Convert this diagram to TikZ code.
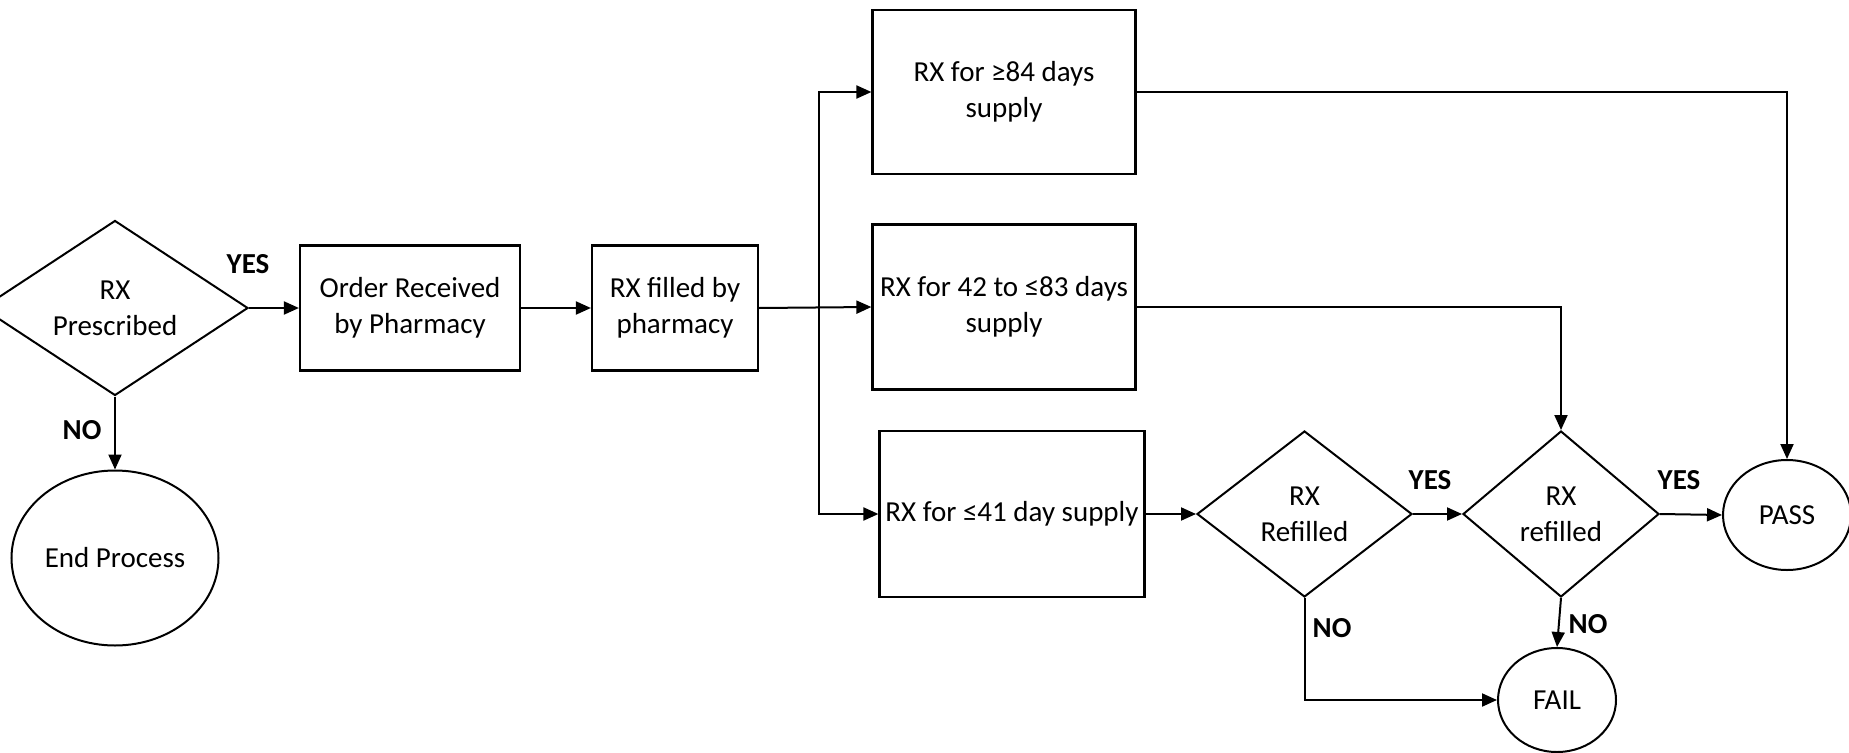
\documentclass[tikz,border=0pt]{standalone}
\usepackage{fontspec}
\setmainfont{Carlito}
\usetikzlibrary{shapes.geometric,arrows.meta}

\begin{document}
\begin{tikzpicture}
[
	x=1pt,y=-1pt,
	font=\fontsize{29}{36}\selectfont,
	procbox/.style={rectangle,draw,line width=2.2pt,inner sep=0pt,align=center},
	decision/.style={diamond,draw,line width=2pt,inner sep=0pt,align=center},
	termnode/.style={ellipse,draw,line width=2pt,inner sep=0pt,align=center},
	lbl/.style={font=\fontsize{29}{36}\selectfont\bfseries},
	arr/.style={-{Triangle[length=15pt,width=13pt]},line width=2pt}
]

	\useasboundingbox (0,0) rectangle (1849,752);

	% start
	\node[decision,aspect=1.53,minimum width=266pt,minimum height=175pt] at (115,308) (prescribed) {RX\\Prescribed};
	\node[termnode,minimum width=207pt,minimum height=175pt] at (115,558) (endproc) {End Process};
	\node[procbox,minimum width=220pt,minimum height=125pt] at (410,308) (order) {Order Received\\by Pharmacy};
	\node[procbox,minimum width=166pt,minimum height=125pt] at (675,308) (filled) {RX filled by\\pharmacy};

	% supply boxes
	\node[procbox,minimum width=263pt,minimum height=164pt] at (1004,92) (long) {RX for ≥84 days\\supply};
	\node[procbox,minimum width=263pt,minimum height=165pt] at (1004,307) (mid) {RX for 42 to ≤83 days\\supply};
	\node[procbox,minimum width=265pt,minimum height=166pt] at (1012,514) (short) {RX for ≤41 day supply};

	% refills
	\node[decision,aspect=1.3,minimum width=215pt,minimum height=166pt] at (1304.5,514) (refillA) {RX\\Refilled};
	\node[decision,aspect=1.18,minimum width=196pt,minimum height=166pt] at (1561,514) (refillB) {RX\\refilled};
	\node[termnode,minimum width=128pt,minimum height=110pt] at (1787,515) (pass) {PASS};
	\node[termnode,minimum width=118pt,minimum height=104pt] at (1557,700) (fail) {FAIL};

	% connectors
	\draw[arr] (prescribed.east) -- (order.west);
	\draw[arr] (prescribed.south) -- (endproc.north);
	\draw[arr] (order.east) -- (filled.west);
	\draw[arr] (filled.east) -- (mid.west);
	\coordinate (split) at (819,307.5);
	\draw[arr] (split) |- (long.west);
	\draw[arr] (split) |- (short.west);
	\draw[arr] (long.east) -| (pass.north);
	\draw[arr] (mid.east) -| (refillB.north);
	\draw[arr] (short.east) -- (refillA.west);
	\draw[arr] (refillA.east) -- (refillB.west);
	\draw[arr] (refillB.east) -- (pass.west);
	\draw[arr] (refillA.south) |- (fail.west);
	\draw[arr] (refillB.south) -- (fail.north);

	% labels
	\node[lbl] at (248,264) (yes1) {YES};
	\node[lbl] at (82,430) (no1) {NO};
	\node[lbl] at (1430,480) (yesA) {YES};
	\node[lbl] at (1679,480) (yesB) {YES};
	\node[lbl] at (1332,628) (noA) {NO};
	\node[lbl] at (1588,624) (noB) {NO};

\end{tikzpicture}
\end{document}
